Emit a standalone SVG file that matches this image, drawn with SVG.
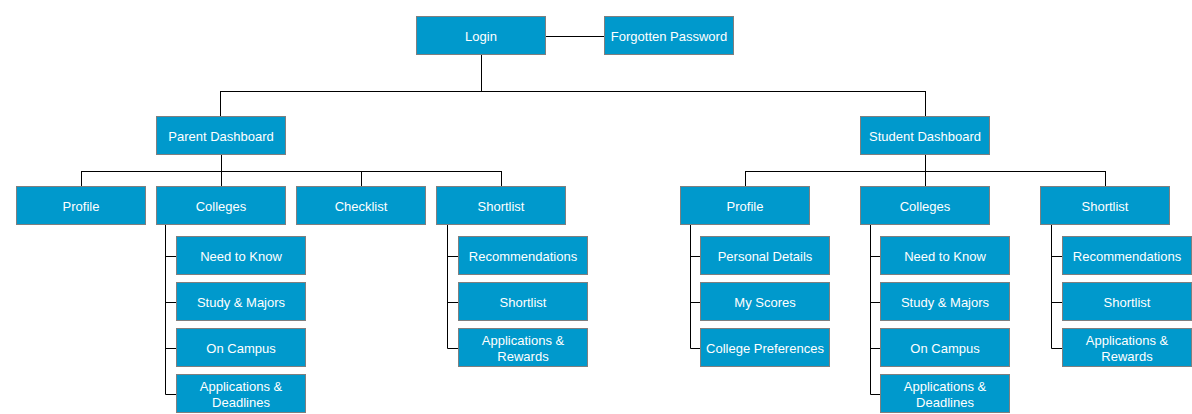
<svg xmlns="http://www.w3.org/2000/svg" width="1192" height="414" viewBox="0 0 1192 414">
<style>
.n rect{fill:#0099cc;stroke:#7f7f7f;stroke-width:1}
.n text{fill:#ffffff;font-family:"Liberation Sans",Arial,sans-serif;font-size:13px;text-anchor:middle;dominant-baseline:central}
.c path{fill:none;stroke:#000000;stroke-width:1}
</style>
<rect width="1192" height="414" fill="#ffffff"/>
<g class="c" id="connectors">
<path d="M546 36.5H604"/>
<path d="M481.5 55V91.5"/>
<path d="M220.5 91.5H925.5"/>
<path d="M220.5 91V116"/>
<path d="M925.5 91V116"/>
<path d="M221.5 155V186"/>
<path d="M81.5 171.5H501.5"/>
<path d="M81.5 171V186"/>
<path d="M361.5 171V186"/>
<path d="M501.5 171V186"/>
<path d="M165.5 225V394.5H176M165.5 256.5H176M165.5 302.5H176M165.5 348.5H176"/>
<path d="M447.5 225V348.5H458M447.5 256.5H458M447.5 302.5H458"/>
<path d="M925.5 155V186"/>
<path d="M745.5 171.5H1105.5"/>
<path d="M745.5 171V186"/>
<path d="M1105.5 171V186"/>
<path d="M690.5 225V348.5H700M690.5 256.5H700M690.5 302.5H700"/>
<path d="M870.5 225V394.5H880M870.5 256.5H880M870.5 302.5H880M870.5 348.5H880"/>
<path d="M1051.5 225V348.5H1062M1051.5 256.5H1062M1051.5 302.5H1062"/>
</g>
<g class="n" id="login"><rect x="416.5" y="16.5" width="129" height="38"/><text x="481" y="36">Login</text></g>
<g class="n" id="forgotten-password"><rect x="604.5" y="16.5" width="129" height="38"/><text x="669" y="36">Forgotten Password</text></g>
<g class="n" id="parent-dashboard"><rect x="156.5" y="116.5" width="129" height="38"/><text x="221" y="136">Parent Dashboard</text></g>
<g class="n" id="student-dashboard"><rect x="860.5" y="116.5" width="129" height="38"/><text x="925" y="136">Student Dashboard</text></g>
<g class="n" id="p-profile"><rect x="16.5" y="186.5" width="129" height="38"/><text x="81" y="206">Profile</text></g>
<g class="n" id="p-colleges"><rect x="156.5" y="186.5" width="129" height="38"/><text x="221" y="206">Colleges</text></g>
<g class="n" id="p-checklist"><rect x="296.5" y="186.5" width="129" height="38"/><text x="361" y="206">Checklist</text></g>
<g class="n" id="p-shortlist"><rect x="436.5" y="186.5" width="129" height="38"/><text x="501" y="206">Shortlist</text></g>
<g class="n" id="p-need-to-know"><rect x="176.5" y="236.5" width="129" height="38"/><text x="241" y="256">Need to Know</text></g>
<g class="n" id="p-study-majors"><rect x="176.5" y="282.5" width="129" height="38"/><text x="241" y="302">Study &amp; Majors</text></g>
<g class="n" id="p-on-campus"><rect x="176.5" y="328.5" width="129" height="38"/><text x="241" y="348">On Campus</text></g>
<g class="n" id="p-app-deadlines"><rect x="176.5" y="374.5" width="129" height="38"/><text x="241" y="386">Applications &amp;</text><text x="241" y="402">Deadlines</text></g>
<g class="n" id="p-recommendations"><rect x="458.5" y="236.5" width="129" height="38"/><text x="523" y="256">Recommendations</text></g>
<g class="n" id="p-shortlist-sub"><rect x="458.5" y="282.5" width="129" height="38"/><text x="523" y="302">Shortlist</text></g>
<g class="n" id="p-app-rewards"><rect x="458.5" y="328.5" width="129" height="38"/><text x="523" y="340">Applications &amp;</text><text x="523" y="356">Rewards</text></g>
<g class="n" id="s-profile"><rect x="680.5" y="186.5" width="129" height="38"/><text x="745" y="206">Profile</text></g>
<g class="n" id="s-colleges"><rect x="860.5" y="186.5" width="129" height="38"/><text x="925" y="206">Colleges</text></g>
<g class="n" id="s-shortlist"><rect x="1040.5" y="186.5" width="129" height="38"/><text x="1105" y="206">Shortlist</text></g>
<g class="n" id="s-personal-details"><rect x="700.5" y="236.5" width="129" height="38"/><text x="765" y="256">Personal Details</text></g>
<g class="n" id="s-my-scores"><rect x="700.5" y="282.5" width="129" height="38"/><text x="765" y="302">My Scores</text></g>
<g class="n" id="s-college-prefs"><rect x="700.5" y="328.5" width="129" height="38"/><text x="765" y="348">College Preferences</text></g>
<g class="n" id="s-need-to-know"><rect x="880.5" y="236.5" width="129" height="38"/><text x="945" y="256">Need to Know</text></g>
<g class="n" id="s-study-majors"><rect x="880.5" y="282.5" width="129" height="38"/><text x="945" y="302">Study &amp; Majors</text></g>
<g class="n" id="s-on-campus"><rect x="880.5" y="328.5" width="129" height="38"/><text x="945" y="348">On Campus</text></g>
<g class="n" id="s-app-deadlines"><rect x="880.5" y="374.5" width="129" height="38"/><text x="945" y="386">Applications &amp;</text><text x="945" y="402">Deadlines</text></g>
<g class="n" id="s-recommendations"><rect x="1062.5" y="236.5" width="129" height="38"/><text x="1127" y="256">Recommendations</text></g>
<g class="n" id="s-shortlist-sub"><rect x="1062.5" y="282.5" width="129" height="38"/><text x="1127" y="302">Shortlist</text></g>
<g class="n" id="s-app-rewards"><rect x="1062.5" y="328.5" width="129" height="38"/><text x="1127" y="340">Applications &amp;</text><text x="1127" y="356">Rewards</text></g>
</svg>
